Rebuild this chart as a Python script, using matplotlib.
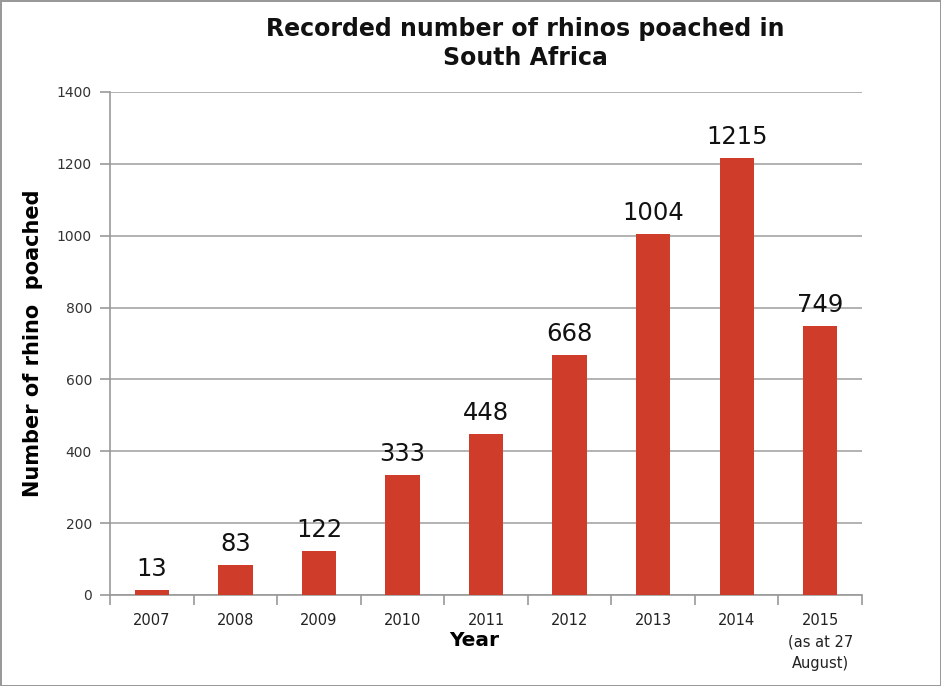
import numpy as np
import matplotlib.pyplot as plt

years = ['2007', '2008', '2009', '2010', '2011', '2012', '2013', '2014',
         '2015\n(as at 27\nAugust)']
poached = [13, 83, 122, 333, 448, 668, 1004, 1215, 749]

fig = plt.figure(figsize=(9.41, 6.86), dpi=100)
fig.patch.set_edgecolor('#999999')
fig.patch.set_linewidth(2)
ax = fig.add_axes([0.117, 0.1327, 0.799, 0.7333])

x = np.arange(len(years))
ax.bar(x, poached, width=0.41, color='#D03C2A', zorder=3)
for xi, v in zip(x, poached):
    ax.text(xi, v + 25, str(v), ha='center', va='bottom', fontsize=17.5,
            color='#111111')

ax.set_xlim(-0.5, len(years) - 0.5)
ax.set_ylim(0, 1400)
ax.set_yticks(range(0, 1401, 200))
ax.grid(axis='y', color='#a6a6a6', linewidth=1.2, zorder=0)

ax.set_xticks(x)
ax.set_xticklabels(years, fontsize=10.5, color='#222222', va='top',
                   linespacing=1.55)
ax.set_xticks(np.arange(-0.5, len(years)), minor=True)
ax.tick_params(axis='x', which='major', length=0, pad=13)
ax.tick_params(axis='x', which='minor', length=7, color='#999999', width=1.2)
ax.tick_params(axis='y', length=7, color='#999999', width=1.2,
               labelsize=10, labelcolor='#333333', pad=6)

for s in ['top', 'right']:
    ax.spines[s].set_visible(False)
for s in ['left', 'bottom']:
    ax.spines[s].set_color('#999999')
    ax.spines[s].set_linewidth(1.2)

ax.set_ylabel('Number of rhino  poached', fontsize=15, fontweight='bold',
              labelpad=10)
fig.text(0.504, 0.058, 'Year', fontsize=14.5, fontweight='bold', ha='center')
fig.text(0.558, 0.975, 'Recorded number of rhinos poached in\nSouth Africa',
         fontsize=17, fontweight='bold', ha='center', va='top',
         linespacing=1.25, color='#111111')

fig.savefig('out.png', dpi=100, edgecolor=fig.get_edgecolor())
